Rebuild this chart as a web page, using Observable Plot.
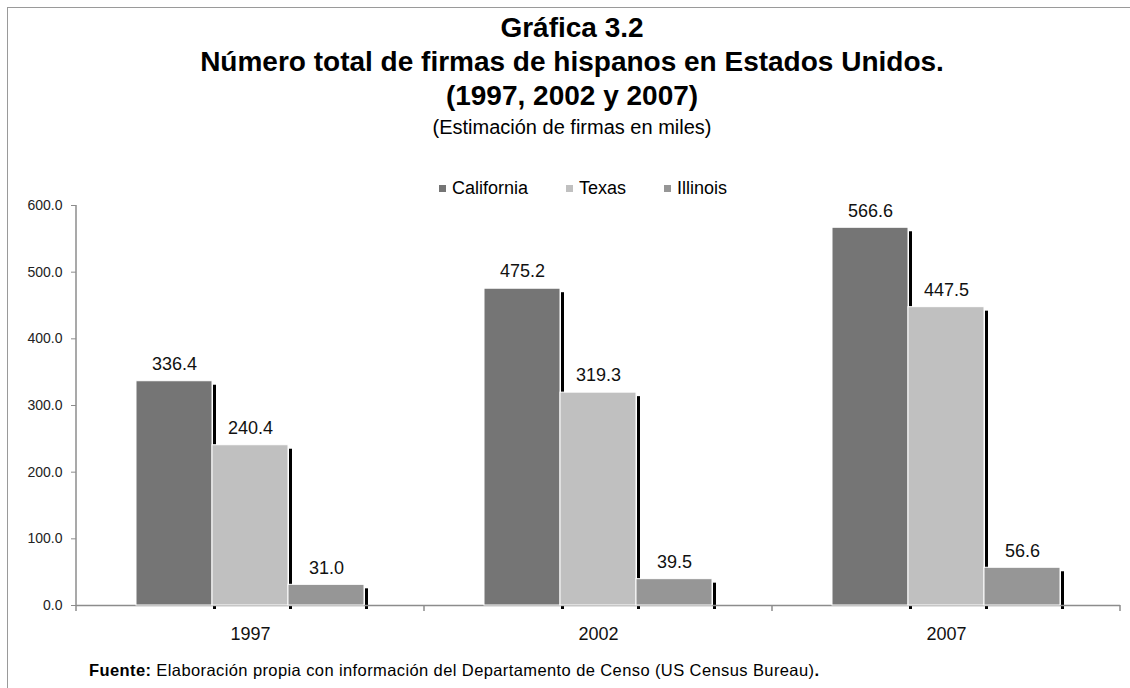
<!DOCTYPE html>
<html>
<head>
<meta charset="utf-8">
<script src="https://cdn.jsdelivr.net/npm/d3@7"></script>
<script src="https://cdn.jsdelivr.net/npm/@observablehq/plot@0.6"></script>
<style>
  html, body { margin: 0; padding: 0; background: #fff; }
  body { font-family: "Liberation Sans", Arial, sans-serif; color: #000; }
  #wrap { position: relative; width: 1130px; height: 688px; overflow: hidden; }
  #border { position: absolute; left: 7px; top: 7px; width: 1200px; height: 800px; border-left: 1.5px solid #9a9a9a; border-top: 1.5px solid #9a9a9a; box-sizing: border-box; }
  #title { position: absolute; left: 72px; width: 1000px; top: 11px; text-align: center; font-weight: bold; font-size: 28px; line-height: 34px; }
  #subtitle { position: absolute; left: 72px; width: 1000px; top: 115px; text-align: center; font-size: 20px; line-height: 24px; }
  #legend { position: absolute; left: 439px; top: 177px; display: flex; align-items: center; font-size: 18px; line-height: 22px; }
  #legend .item { display: flex; align-items: center; margin-right: 38px; }
  #legend .sw { width: 7px; height: 7px; margin-right: 6px; }
  #caption { position: absolute; left: 89px; top: 661px; font-size: 16.5px; letter-spacing: 0.4px; line-height: 18px; }
  #chart { position: absolute; left: 0; top: 0; }
</style>
</head>
<body>
<div id="wrap">
  <div id="border"></div>
  <div id="chart"></div>
  <div id="title"></div>
  <div id="subtitle"></div>
  <div id="legend"></div>
  <div id="caption"></div>
</div>
<script>
// ---- Data ----
const years = ["1997", "2002", "2007"];
const states = ["California", "Texas", "Illinois"];
const california = [336.4, 475.2, 566.6];
const texas = [240.4, 319.3, 447.5];
const illinois = [31.0, 39.5, 56.6];
const stateColors = ["#757575", "#c0c0c0", "#969696"];
const yTicks = [0, 100, 200, 300, 400, 500, 600];
const titleLines = ["Gráfica 3.2", "Número total de firmas de hispanos en Estados Unidos.", "(1997, 2002 y 2007)"];
const subtitleText = "(Estimación de firmas en miles)";
const captionBold = "Fuente:";
const captionText = " Elaboración propia con información del Departamento de Censo (US Census Bureau)";

const seriesByState = {California: california, Texas: texas, Illinois: illinois};
const data = years.flatMap((year, i) => states.map(state => ({year, state, value: seriesByState[state][i]})));

// ---- Layout ----
const W = 1130, H = 688;
const mL = 75, mR = 9, mT = 205, mB = 83;
const xPadOuter = 0.766;
const shadowW = 3;

function makePlot(barBand) {
  return Plot.plot({
    width: W,
    height: H,
    marginTop: mT, marginBottom: mB, marginLeft: mL, marginRight: mR,
    style: {fontFamily: "'Liberation Sans', Arial, sans-serif", background: "transparent", color: "#000"},
    fx: {domain: years, padding: 0, axis: null},
    x: {domain: states, paddingInner: 0, paddingOuter: xPadOuter, axis: null},
    y: {domain: [0, 600], axis: null},
    color: {domain: states, range: stateColors},
    marks: [
      Plot.axisY({ticks: yTicks, tickFormat: d => d.toFixed(1), tickSize: 5, tickPadding: 9, fontSize: 14, stroke: "#8c8c8c", fill: "#222", label: null}),
      // shadow strips at right side of each bar
      Plot.barY(data, {fx: "year", x: "state", y1: 0, y2: "value", fill: "#000", insetLeft: Math.max(0, barBand - shadowW), dx: 4, dy: 4}),
      Plot.ruleY([0], {stroke: "#8c8c8c", strokeWidth: 1.5}),
      Plot.barY(data, {fx: "year", x: "state", y: "value", fill: "state", stroke: "#fff", strokeWidth: 1}),
      Plot.text(data, {fx: "year", x: "state", y: "value", text: d => d.value.toFixed(1), dy: -17, fontSize: 18, fill: "#111"}),
      Plot.axisFx({anchor: "bottom", tickSize: 0, tickPadding: 22, fontSize: 18, fill: "#111", label: null})
    ]
  });
}
// first pass only to read the bar bandwidth from the library's x scale
const probe = makePlot(0);
const bw = probe.scale("x").bandwidth;
const plot = makePlot(bw);
document.getElementById("chart").appendChild(plot);

// y-axis domain line and category boundary ticks, positioned from the library's scales
const fx = plot.scale("fx");
const ys = plot.scale("y");
const svg = d3.select(plot);
const y0 = ys.apply(0), yTop = ys.apply(600);
const left = fx.apply(years[0]);
svg.append("line").attr("x1", left).attr("x2", left).attr("y1", yTop).attr("y2", y0)
  .attr("stroke", "#8c8c8c").attr("stroke-width", 1.5);
const bounds = years.map(y => fx.apply(y)).concat([fx.apply(years[years.length - 1]) + fx.bandwidth]);
bounds.forEach(b => {
  svg.append("line").attr("x1", b).attr("x2", b).attr("y1", y0).attr("y2", y0 + 6)
    .attr("stroke", "#8c8c8c").attr("stroke-width", 1.5);
});

// ---- Text ----
document.getElementById("title").innerHTML = titleLines.map(t => `<div>${t}</div>`).join("");
document.getElementById("subtitle").textContent = subtitleText;
document.getElementById("legend").innerHTML = states.map((s, i) =>
  `<div class="item"><div class="sw" style="background:${stateColors[i]}"></div><span>${s}</span></div>`).join("");
document.getElementById("caption").innerHTML = `<b>${captionBold}</b>${captionText}<b>.</b>`;
</script>
</body>
</html>
